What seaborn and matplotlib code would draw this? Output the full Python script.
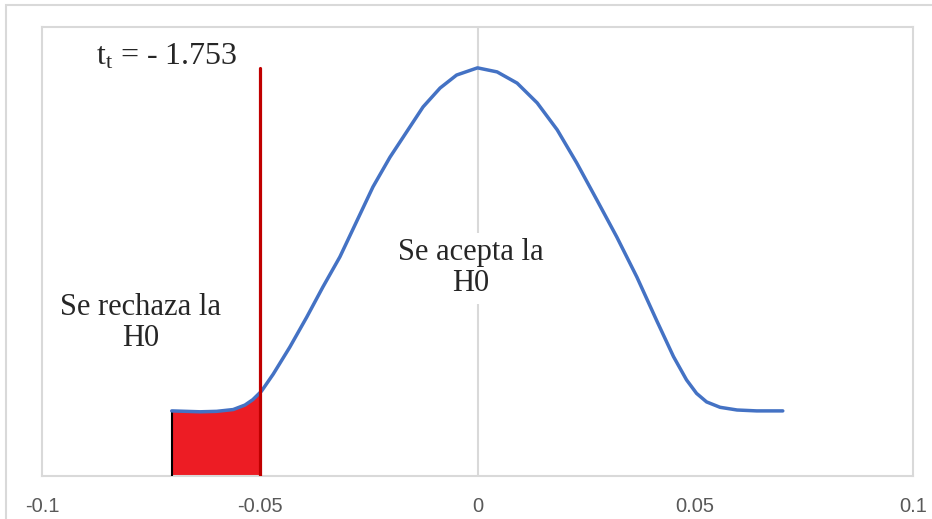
import numpy as np
import pandas as pd
import seaborn as sns
import matplotlib.pyplot as plt
from matplotlib.patches import Rectangle

# datos (curva t de student dibujada a mano)
x_vals = [-0.0702, -0.0637, -0.0599, -0.0561, -0.0534, -0.0516, -0.0496, -0.0469,
          -0.0431, -0.0392, -0.0355, -0.0316, -0.0240, -0.0201, -0.0163, -0.0125,
          -0.0086, -0.0048, 0.0, 0.0045, 0.0091, 0.0137, 0.0183, 0.0228,
          0.0274, 0.0320, 0.0366, 0.0412, 0.0450, 0.0480, 0.0503, 0.0526,
          0.0557, 0.0596, 0.0641, 0.0701]
y_vals = [0.145, 0.143, 0.144, 0.148, 0.158, 0.170, 0.189, 0.227,
          0.287, 0.354, 0.421, 0.488, 0.644, 0.710, 0.766, 0.822,
          0.864, 0.893, 0.909, 0.900, 0.875, 0.831, 0.771, 0.697,
          0.615, 0.532, 0.443, 0.345, 0.266, 0.214, 0.184, 0.165,
          0.153, 0.147, 0.145, 0.145]
t_critico = -0.05
x_ticks = [-0.1, -0.05, 0, 0.05, 0.1]
x_tick_labels = ["-0.1", "-0.05", "0", "0.05", "0.1"]

df = pd.DataFrame({"x": x_vals, "y": y_vals})

sns.set_style("white")
plt.rcParams["font.family"] = ["Liberation Serif", "DejaVu Sans"]
plt.rcParams["mathtext.fontset"] = "custom"
plt.rcParams["mathtext.rm"] = "Liberation Serif"
plt.rcParams["mathtext.it"] = "Liberation Serif"

fig = plt.figure(figsize=(9.32, 5.19), dpi=100)
# marco exterior
fig.patches.append(Rectangle((6 / 932, -0.1), 1.2, 1 - 5 / 519 + 0.1, transform=fig.transFigure,
                             fill=False, edgecolor="#d9d9d9", linewidth=1.5))
ax = fig.add_axes([42 / 932, 1 - 476 / 519, (913 - 42) / 932, (476 - 27) / 519])

# area de rechazo (recortada en t critico)
relleno = ax.fill_between(df["x"], 0, df["y"], color="#ed1c24", linewidth=0, zorder=2)
clip = Rectangle((-0.2, 0), 0.2 + t_critico, 2, transform=ax.transData)
relleno.set_clip_path(clip)
ax.plot([x_vals[0], x_vals[0]], [0, y_vals[0]], color="black", linewidth=1.5, zorder=3)

sns.lineplot(data=df, x="x", y="y", color="#4472c4", linewidth=2.5, ax=ax, zorder=4,
             sort=False, solid_joinstyle="round", solid_capstyle="round")
ax.axvline(0, color="#d9d9d9", linewidth=1.5, zorder=1)
ax.plot([t_critico, t_critico], [0, max(y_vals)], color="#c00000", linewidth=2.3, zorder=5)

ax.set_xlim(-0.1, 0.1)
ax.set_ylim(0, 1)
ax.set_xticks(x_ticks)
ax.set_xticklabels(x_tick_labels, family="Liberation Sans", fontsize=14.5, color="#595959")
ax.set_yticks([])
ax.tick_params(axis="x", length=0, pad=15)
ax.set_xlabel("")
ax.set_ylabel("")
for s in ax.spines.values():
    s.set_color("#d9d9d9")
    s.set_linewidth(1.5)

ax.text(-0.0875, 0.933, r"t$_\mathregular{t}$ = - 1.753", fontsize=23, va="center", ha="left")
ax.text(-0.0015, 0.463, "Se acepta la\nH0", fontsize=22, ha="center", va="center",
        multialignment="center", linespacing=1.1, zorder=6,
        bbox=dict(facecolor="white", edgecolor="none", pad=4))
ax.text(-0.0773, 0.341, "Se rechaza la\nH0", fontsize=22, ha="center", va="center",
        multialignment="center", linespacing=1.1, zorder=6)

fig.savefig("out.png", dpi=100)
